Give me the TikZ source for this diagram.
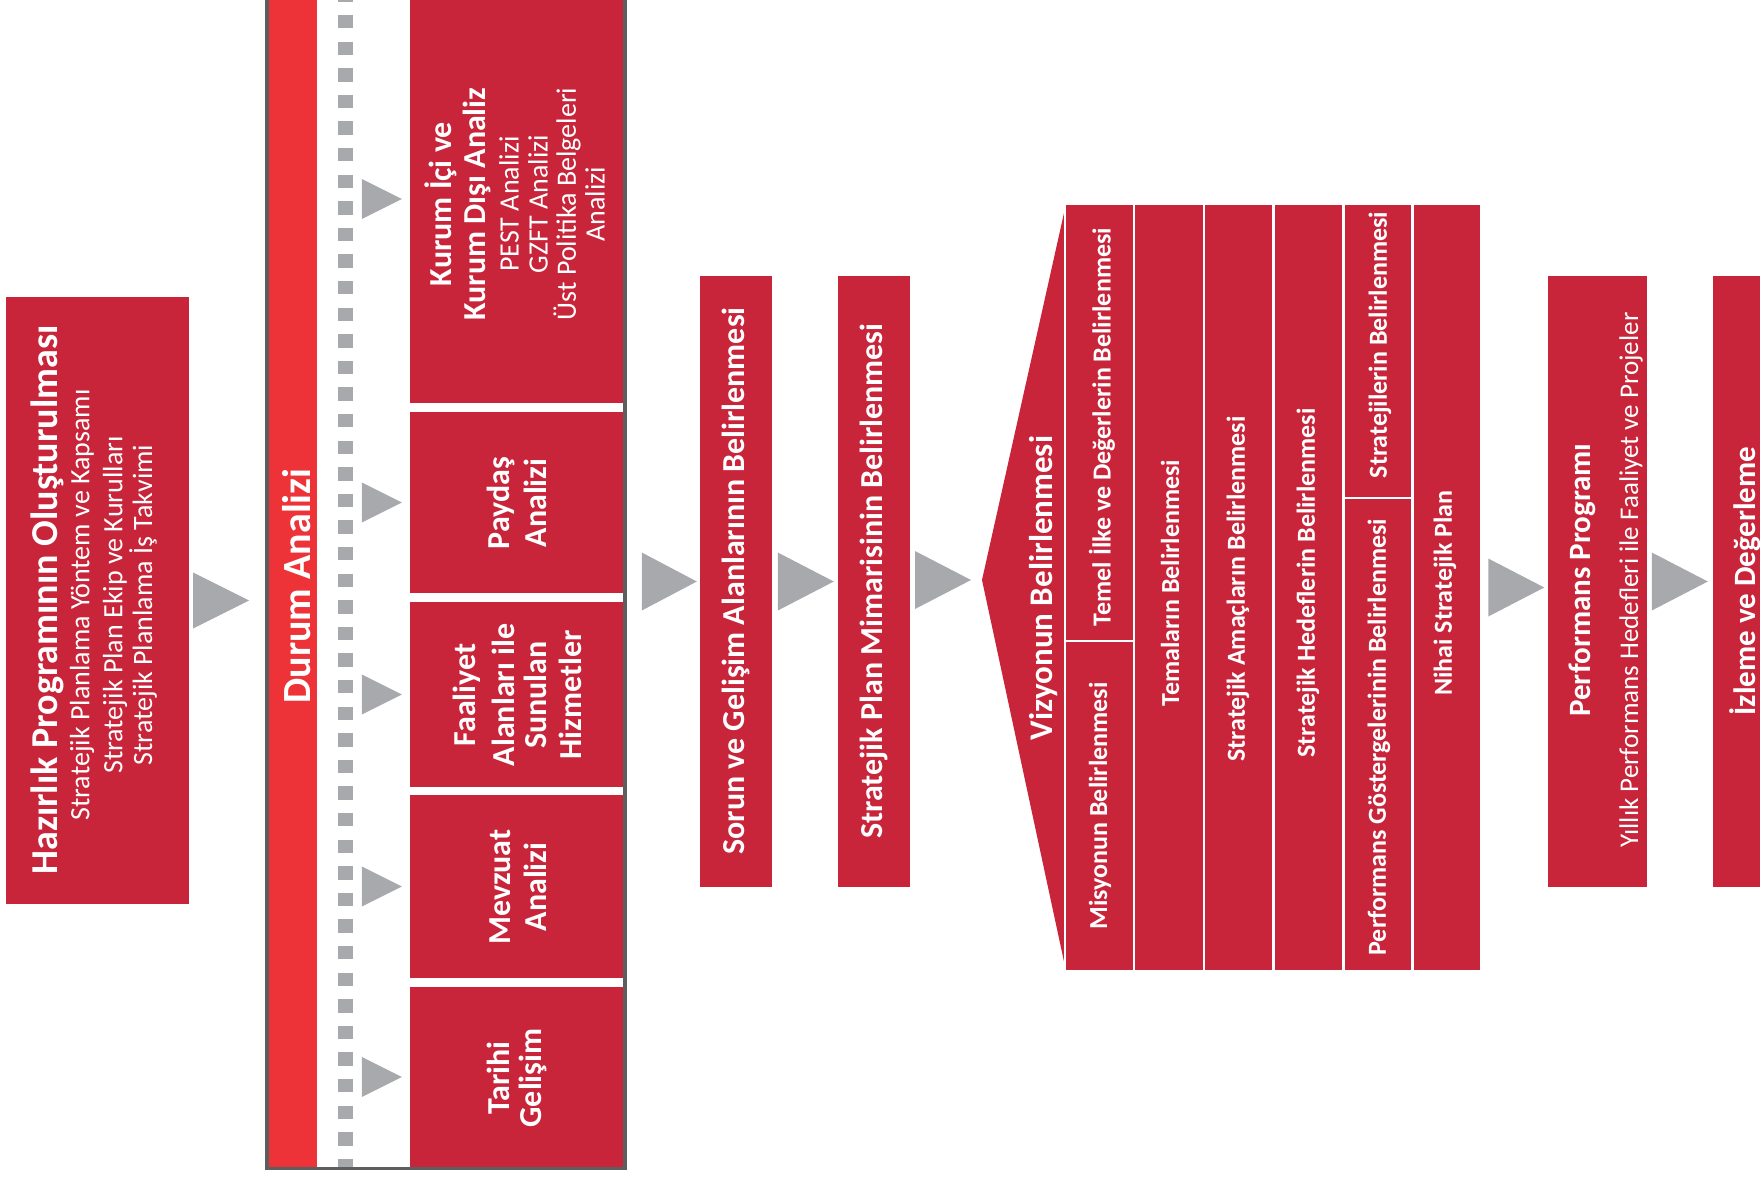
\documentclass[tikz,border=0pt]{standalone}
\usepackage{fontspec}
\setmainfont{Carlito}
\usetikzlibrary{calc}
\definecolor{boxred}{HTML}{C8243A}
\definecolor{stripred}{HTML}{EE3338}
\definecolor{arrowc}{HTML}{A7A9AC}
\definecolor{framec}{HTML}{5D5E60}
\newcommand\garrow[4]{\fill[arrowc, shift={($(#1)+(#2,0)$)}] (0,0) -- (-#3,#4) -- (-#3,-#4) -- cycle;}
\begin{document}
\begin{tikzpicture}[x=1pt,y=1pt,
  redbox/.style 2 args={fill=boxred, draw=none, inner sep=0pt, minimum width=#1pt, minimum height=#2pt},
  cell/.style 2 args={fill=boxred, draw=white, line width=2.5pt, inner sep=0pt, minimum width=#1pt, minimum height=#2pt},
  tb/.style={text=white, rotate=90, inner sep=0pt, font=\bfseries\fontsize{#1}{#1}\selectfont},
  tr/.style={text=white, rotate=90, inner sep=0pt, font=\fontsize{#1}{#1}\selectfont}]
\useasboundingbox (0,0) rectangle (1760,-1176);
\clip (0,0) rectangle (1760,-1176);

% Box 1
\node[redbox={183}{607}] (b1) at (97.5,-600.5) {};
\node[tb=38] (b1t) at (47,-600) {Hazırlık Programının Oluşturulması};
\node[tr=28] (b1s1) at (82,-605) {Stratejik Planlama Yöntem ve Kapsamı};
\node[tr=28] (b1s2) at (115,-605) {Stratejik Plan Ekip ve Kurulları};
\node[tr=28] (b1s3) at (143,-605) {Stratejik Planlama İş Takvimi};
\garrow{b1.east}{60}{56}{28}

% Durum Analizi frame
\node[fill=stripred, inner sep=0pt, minimum width=48pt, minimum height=1175pt] (strip) at (293,-580) {};
\coordinate (dtop) at (345.5,0);
\coordinate (dbot) at (345.5,-1167);
\draw[arrowc, line width=15pt, dash pattern=on 13.3pt off 13.3pt, dash phase=11.6pt] (dtop) -- (dbot);
\node[redbox={213}{408}] (sb1) at (516.5,-199) {};
\node[redbox={213}{181}] (sb2) at (516.5,-502.5) {};
\node[redbox={213}{185}] (sb3) at (516.5,-694.5) {};
\node[redbox={213}{183}] (sb4) at (516.5,-886.5) {};
\node[redbox={213}{180}] (sb5) at (516.5,-1077) {};
\node[draw=framec, line width=3.5pt, inner sep=0pt, minimum width=358pt, minimum height=1173.5pt] (frame) at (446,-581.75) {};
\node[tb=40] (durum) at (297,-586) {Durum Analizi};
\garrow{sb1.west}{-8}{40}{20}
\garrow{sb2.west}{-8}{40}{20}
\garrow{sb3.west}{-8}{40}{20}
\garrow{sb4.west}{-8}{40}{20}
\garrow{sb5.west}{-8}{40}{20}

\node[tb=32] (k1) at (441,-204) {Kurum İçi ve};
\node[tb=32] (k2) at (477,-204) {Kurum Dışı Analiz};
\node[tr=28] (k3) at (509,-204) {PEST Analizi};
\node[tr=28] (k4) at (538,-204) {GZFT Analizi};
\node[tr=28] (k5) at (567,-204) {Üst Politika Belgeleri};
\node[tr=28] (k6) at (595,-204) {Analizi};

\node[tb=32] (p1) at (501,-503) {Paydaş};
\node[tb=32] (p2) at (535,-503) {Analizi};

\node[tb=32] (f1) at (467,-695) {Faaliyet};
\node[tb=32] (f2) at (503,-695) {Alanları ile};
\node[tb=32] (f3) at (535,-695) {Sunulan};
\node[tb=32] (f4) at (570,-695) {Hizmetler};

\node[tb=32] (m1) at (500,-887) {Mevzuat};
\node[tb=32] (m2) at (535,-887) {Analizi};

\node[tb=32] (t1) at (498,-1078) {Tarihi};
\node[tb=32] (t2) at (533,-1078) {Gelişim};

% Sorun / Stratejik plan
\node[redbox={72}{611}] (sorun) at (736,-581.5) {};
\node[tb=32] (sorunt) at (736,-581) {Sorun ve Gelişim Alanlarının Belirlenmesi};
\garrow{sorun.west}{-3}{55}{29}
\node[redbox={72}{611}] (strat) at (874,-581.5) {};
\node[tb=32] (stratt) at (874,-581) {Stratejik Plan Mimarisinin Belirlenmesi};
\garrow{strat.west}{-4}{56}{29}

% Vizyon pentagon and columns
\coordinate (vtip) at (982,-580);
\coordinate (vtop) at (1066,-204);
\coordinate (vbot) at (1066,-971);
\fill[boxred] (vtip) -- (vtop) -- (vbot) -- cycle;
\garrow{vtip}{-11}{56}{29}
\node[tb=33] (vizt) at (1044,-588) {Vizyonun Belirlenmesi};

\node[cell={69}{437}] (c1a) at (1099.5,-422.5) {};
\node[cell={69}{330}] (c1b) at (1099.5,-806) {};
\node[cell={70}{767}] (c2) at (1169,-587.5) {};
\node[cell={69.5}{767}] (c3) at (1238.75,-587.5) {};
\node[cell={70}{767}] (c4) at (1308.5,-587.5) {};
\node[cell={69}{294}] (c5a) at (1378,-351) {};
\node[cell={69}{473}] (c5b) at (1378,-734.5) {};
\node[cell={68.5}{767}] (c6) at (1446.75,-587.5) {};

\node[tb=26] (c1at) at (1102,-427) {Temel İlke ve Değerlerin Belirlenmesi};
\node[tb=26] (c1bt) at (1100,-806) {Misyonun Belirlenmesi};
\node[tb=26] (c2t) at (1170,-583) {Temaların Belirlenmesi};
\node[tb=26] (c3t) at (1238,-589) {Stratejik Amaçların Belirlenmesi};
\node[tb=26] (c4t) at (1308,-583) {Stratejik Hedeflerin Belirlenmesi};
\node[tb=26] (c5at) at (1380,-345) {Stratejilerin Belirlenmesi};
\node[tb=26] (c5bt) at (1379,-737) {Performans Göstergelerinin Belirlenmesi};
\node[tb=26] (c6t) at (1445,-593) {Nihai Stratejik Plan};

% Performans programi
\node[redbox={99}{611}] (perf) at (1597.5,-581.5) {};
\node[tb=31] (perft) at (1582,-580) {Performans Programı};
\node[tr=27] (perfs) at (1631,-580) {Yıllık Performans Hedefleri ile Faaliyet ve Projeler};
\garrow{c6.east}{62}{56}{29}

% Izleme
\node[redbox={87}{611}] (izl) at (1756.5,-581.5) {};
\node[tb=31] (izlt) at (1745,-581) {İzleme ve Değerleme};
\garrow{izl.west}{-5}{56}{29}
\end{tikzpicture}
\end{document}
